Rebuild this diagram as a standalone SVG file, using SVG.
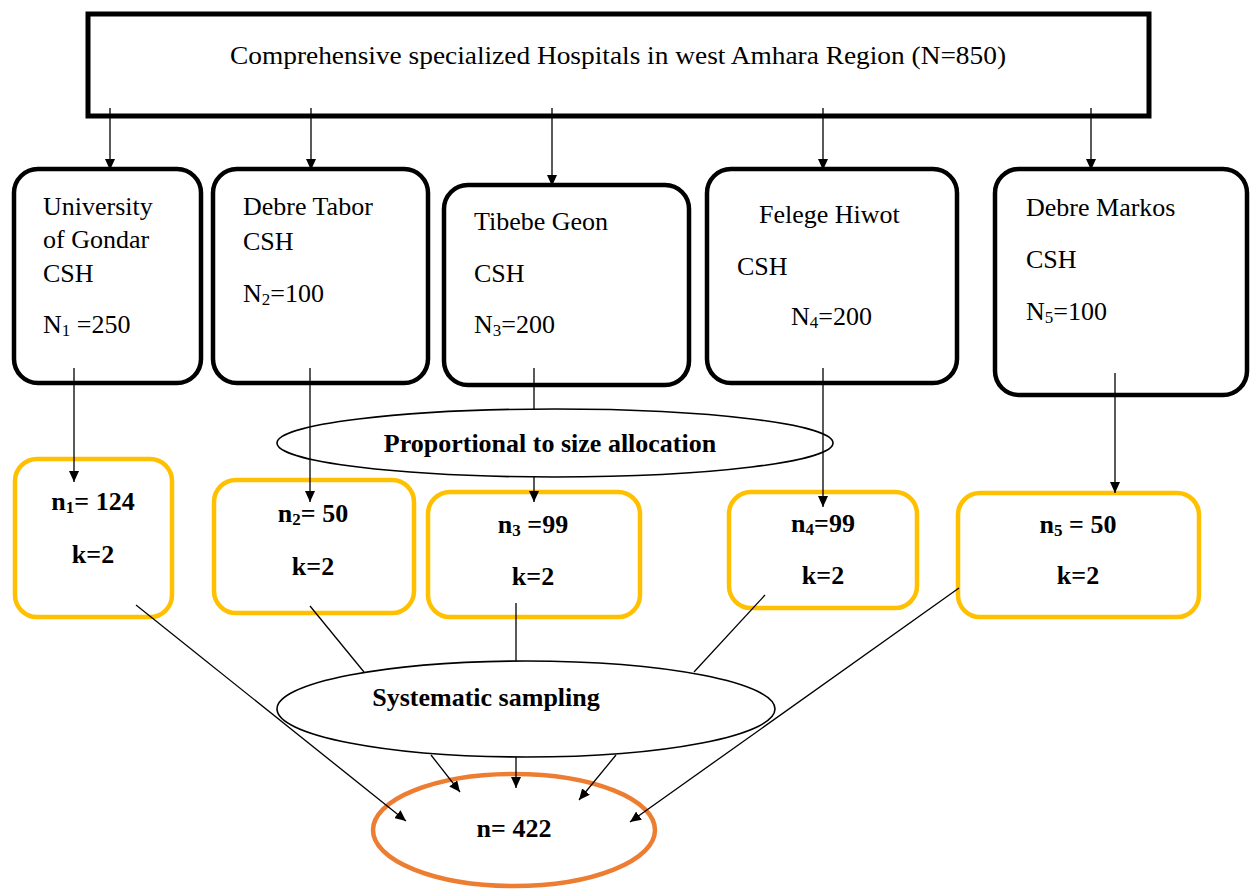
<svg xmlns="http://www.w3.org/2000/svg" width="1250" height="889" viewBox="0 0 1250 889">
<style>
.hb{fill:#fff;stroke:#000;stroke-width:4.5}
.yb{fill:#fff;stroke:#FFC000;stroke-width:4.5}
.el{fill:#fff;stroke:#000;stroke-width:1.6}
.t{font-family:"Liberation Serif","Times New Roman",serif;font-size:26px;fill:#000}
.b{font-family:"Liberation Serif","Times New Roman",serif;font-size:26px;font-weight:bold;fill:#000;text-anchor:middle}
.s{font-size:17px}
.c{stroke:#000;stroke-width:1.3;fill:none}
</style>
<defs>
<marker id="ah" markerUnits="userSpaceOnUse" markerWidth="11" markerHeight="10" refX="11" refY="5" orient="auto">
<path d="M0,0 L11,5 L0,10 z" fill="#000"/>
</marker>
</defs>

<g id="top">
<rect x="88" y="14" width="1061" height="102" fill="#fff" stroke="#000" stroke-width="5"/>
<text class="t" x="230" y="64" textLength="776" lengthAdjust="spacingAndGlyphs">Comprehensive specialized Hospitals in west Amhara Region (N=850)</text>
</g>

<g id="h1">
<rect class="hb" x="14" y="169" width="187" height="214" rx="24"/>
<text class="t" x="43" y="215">University</text>
<text class="t" x="43" y="248">of Gondar</text>
<text class="t" x="43" y="282">CSH</text>
<text class="t" x="43" y="333">N<tspan class="s" dy="3">1</tspan><tspan dy="-3"> =250</tspan></text>
</g>
<g id="h2">
<rect class="hb" x="213" y="169" width="215" height="214" rx="24"/>
<text class="t" x="243" y="215">Debre Tabor</text>
<text class="t" x="243" y="250">CSH</text>
<text class="t" x="243" y="302">N<tspan class="s" dy="3">2</tspan><tspan dy="-3">=100</tspan></text>
</g>
<g id="h3">
<rect class="hb" x="444" y="185" width="245" height="200" rx="24"/>
<text class="t" x="474" y="230">Tibebe Geon</text>
<text class="t" x="474" y="282">CSH</text>
<text class="t" x="474" y="333">N<tspan class="s" dy="3">3</tspan><tspan dy="-3">=200</tspan></text>
</g>
<g id="h4">
<rect class="hb" x="707" y="169" width="250" height="214" rx="24"/>
<text class="t" x="759" y="223">Felege Hiwot</text>
<text class="t" x="737" y="275">CSH</text>
<text class="t" x="791" y="325">N<tspan class="s" dy="3">4</tspan><tspan dy="-3">=200</tspan></text>
</g>
<g id="h5">
<rect class="hb" x="995" y="169" width="252" height="226" rx="24"/>
<text class="t" x="1026" y="216">Debre Markos</text>
<text class="t" x="1026" y="268">CSH</text>
<text class="t" x="1026" y="320">N<tspan class="s" dy="3">5</tspan><tspan dy="-3">=100</tspan></text>
</g>

<g id="alloc">
<ellipse class="el" cx="555" cy="443" rx="278" ry="34"/>
<text class="b" x="550" y="452">Proportional to size allocation</text>
</g>

<g id="y1">
<rect class="yb" x="15" y="459" width="157" height="158" rx="22"/>
<text class="b" x="93" y="510">n<tspan class="s" dy="3">1</tspan><tspan dy="-3">= 124</tspan></text>
<text class="b" x="93" y="563">k=2</text>
</g>
<g id="y2">
<rect class="yb" x="214" y="480" width="200" height="133" rx="22"/>
<text class="b" x="313" y="522">n<tspan class="s" dy="3">2</tspan><tspan dy="-3">= 50</tspan></text>
<text class="b" x="313" y="575">k=2</text>
</g>
<g id="y3">
<rect class="yb" x="428" y="492" width="212" height="125" rx="22"/>
<text class="b" x="533" y="533">n<tspan class="s" dy="3">3</tspan><tspan dy="-3"> =99</tspan></text>
<text class="b" x="533" y="585">k=2</text>
</g>
<g id="y4">
<rect class="yb" x="729" y="492" width="188" height="116" rx="22"/>
<text class="b" x="823" y="532">n<tspan class="s" dy="3">4</tspan><tspan dy="-3">=99</tspan></text>
<text class="b" x="823" y="584">k=2</text>
</g>
<g id="y5">
<rect class="yb" x="958" y="493" width="241" height="124" rx="22"/>
<text class="b" x="1078" y="533">n<tspan class="s" dy="3">5</tspan><tspan dy="-3"> = 50</tspan></text>
<text class="b" x="1078" y="584">k=2</text>
</g>

<g id="sys">
<ellipse class="el" cx="526" cy="709" rx="249" ry="48"/>
<text class="b" x="486" y="706">Systematic sampling</text>
</g>

<g id="total">
<ellipse cx="514" cy="830" rx="141" ry="56" fill="#fff" stroke="#ED7D31" stroke-width="4.5"/>
<text class="b" x="514" y="837">n= 422</text>
</g>

<g id="connectors">
<line class="c" x1="110" y1="108" x2="110" y2="170" marker-end="url(#ah)"/>
<line class="c" x1="311" y1="108" x2="311" y2="170" marker-end="url(#ah)"/>
<line class="c" x1="552" y1="108" x2="552" y2="186" marker-end="url(#ah)"/>
<line class="c" x1="823" y1="108" x2="823" y2="170" marker-end="url(#ah)"/>
<line class="c" x1="1091" y1="108" x2="1091" y2="170" marker-end="url(#ah)"/>

<line class="c" x1="74" y1="368" x2="74" y2="482" marker-end="url(#ah)"/>
<line class="c" x1="310" y1="368" x2="310" y2="502" marker-end="url(#ah)"/>
<line class="c" x1="534" y1="368" x2="534" y2="409"/>
<line class="c" x1="534" y1="477" x2="534" y2="502" marker-end="url(#ah)"/>
<line class="c" x1="823" y1="368" x2="823" y2="507" marker-end="url(#ah)"/>
<line class="c" x1="1115" y1="373" x2="1115" y2="493" marker-end="url(#ah)"/>

<line class="c" x1="136" y1="605" x2="406" y2="821" marker-end="url(#ah)"/>
<line class="c" x1="310" y1="606" x2="364" y2="672"/>
<line class="c" x1="516" y1="603" x2="516" y2="661"/>
<line class="c" x1="765" y1="595" x2="694" y2="672"/>
<line class="c" x1="959" y1="588" x2="630" y2="822" marker-end="url(#ah)"/>

<line class="c" x1="431" y1="755" x2="460" y2="792" marker-end="url(#ah)"/>
<line class="c" x1="516" y1="757" x2="516" y2="788" marker-end="url(#ah)"/>
<line class="c" x1="616" y1="755" x2="579" y2="800" marker-end="url(#ah)"/>
</g>
</svg>
